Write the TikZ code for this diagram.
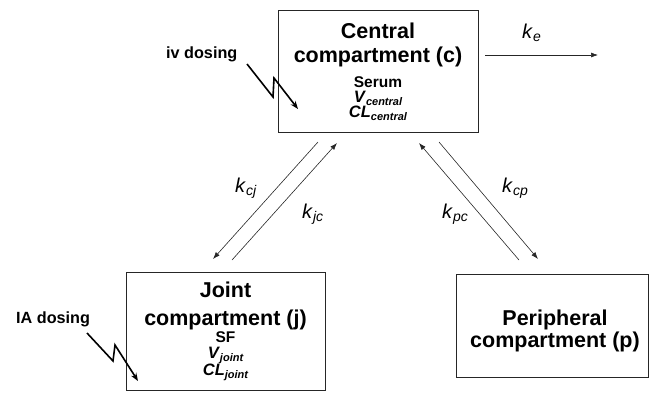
\documentclass[tikz,border=0pt]{standalone}
\usepackage{fontspec}
\setmainfont{Liberation Sans}
\usetikzlibrary{arrows.meta}
\newcommand{\ksub}[1]{\textit{k}\raisebox{-3.5pt}{\fontsize{14}{14}\selectfont\textit{#1}}}
\newcommand{\vsub}[2]{\textbf{\textit{#1}}\raisebox{-3.5pt}{\fontsize{11}{11}\selectfont\bfseries\itshape #2}}
\begin{document}
\begin{tikzpicture}[x=1pt,y=-1pt,
  box/.style={draw=black!85, line width=0.9pt, inner sep=0pt},
  ttl/.style={font=\fontsize{21.5}{24}\selectfont\bfseries, inner sep=0pt, anchor=base},
  small/.style={font=\fontsize{15.5}{18}\selectfont\bfseries, inner sep=0pt, anchor=base},
  var/.style={font=\fontsize{16.5}{18}\selectfont, inner sep=0pt, anchor=base},
  klab/.style={font=\fontsize{20}{22}\selectfont, inner sep=0pt, anchor=base west},
  dose/.style={font=\fontsize{16.2}{18}\selectfont\bfseries, inner sep=0pt, anchor=base west},
  flow/.style={line width=0.6pt, draw=black!85, -{Latex[length=7pt,width=5pt]}},
  zig/.style={line width=1.6pt, -{Stealth[length=8pt,width=6pt]}}
]
\useasboundingbox (0,0) rectangle (649,392);

% boxes
\node[box, minimum width=200pt, minimum height=122pt] (C) at (378,71) {};
\node[box, minimum width=199pt, minimum height=118pt] (J) at (225.5,331) {};
\node[box, minimum width=192pt, minimum height=103pt] (P) at (552,325.5) {};

% central texts
\node[ttl] (c1) at (378,38) {Central};
\node[ttl] (c2) at (378,62) {compartment (c)};
\node[small] (c3) at (378,87) {Serum};
\node[var] (c4) at (378,102) {\vsub{V}{central}};
\node[var] (c5) at (378,117) {\vsub{CL}{central}};

% joint texts
\node[ttl] (j1) at (225.5,297) {Joint};
\node[ttl] (j2) at (225.5,325) {compartment (j)};
\node[small] (j3) at (225.5,342) {SF};
\node[var] (j4) at (225.5,358) {\vsub{V}{joint}};
\node[var] (j5) at (225.5,375) {\vsub{CL}{joint}};

% peripheral texts
\node[ttl] (p1) at (555,325) {Peripheral};
\node[ttl] (p2) at (555,347) {compartment (p)};

% dosing labels
\node[dose] (ivd) at (166,58.5) {iv dosing};
\node[dose] (iad) at (16,323) {IA dosing};

% zigzag dosing arrows
\coordinate (iv0) at (247,64);
\coordinate (iv1) at (273,97);
\coordinate (iv2) at (274,78);
\coordinate (iv3) at (298,109);
\draw[zig] (iv0) -- (iv1) -- (iv2) -- (iv3);
\coordinate (ia0) at (87,333);
\coordinate (ia1) at (113,361);
\coordinate (ia2) at (115,345);
\coordinate (ia3) at (138,381);
\draw[zig] (ia0) -- (ia1) -- (ia2) -- (ia3);

% exchange arrows
\coordinate (cj0) at (318,142);
\coordinate (cj1) at (213,259);
\coordinate (jc0) at (232,260);
\coordinate (jc1) at (337,143);
\coordinate (pc0) at (519,260);
\coordinate (pc1) at (419,143);
\coordinate (cp0) at (439,142);
\coordinate (cp1) at (538,259);
\draw[flow] (cj0) -- (cj1);
\draw[flow] (jc0) -- (jc1);
\draw[flow] (pc0) -- (pc1);
\draw[flow] (cp0) -- (cp1);

% elimination
\coordinate (e0) at (485,55);
\coordinate (e1) at (598,55);
\draw[flow] (e0) -- (e1);

% rate labels
\node[klab] (kcj) at (235,192) {\ksub{cj}};
\node[klab] (kjc) at (302,218) {\ksub{jc}};
\node[klab] (kpc) at (442,218) {\ksub{pc}};
\node[klab] (kcp) at (502,192) {\ksub{cp}};
\node[klab] (ke) at (522,38) {\ksub{e}};
\end{tikzpicture}
\end{document}
